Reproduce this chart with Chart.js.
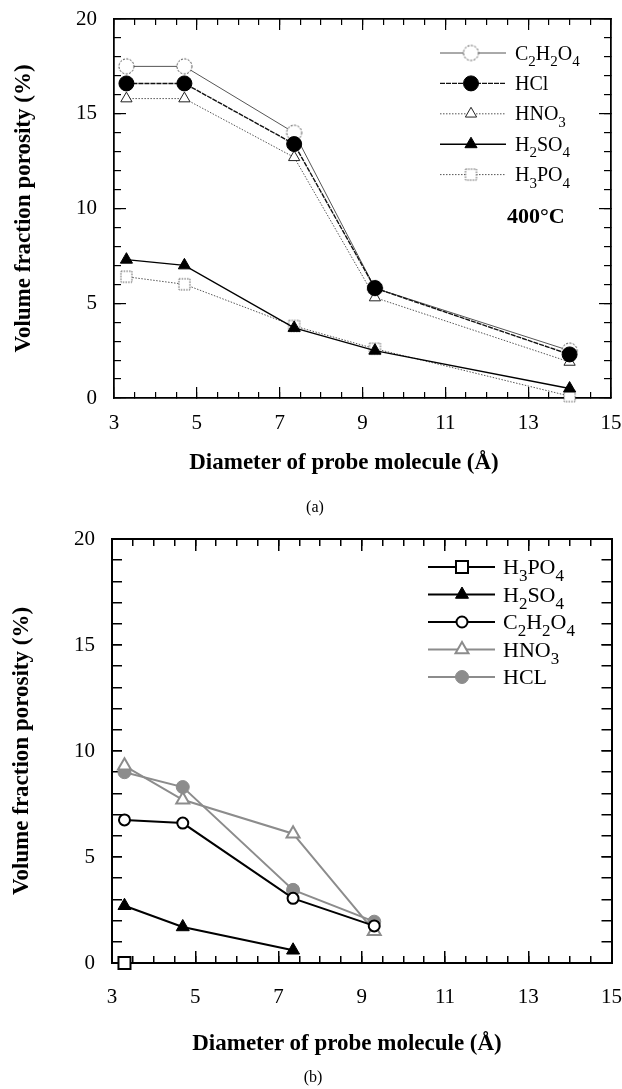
<!DOCTYPE html>
<html><head><meta charset="utf-8">
<script src="https://cdn.jsdelivr.net/npm/chart.js@4.4.1/dist/chart.umd.min.js"></script>
<style>
html,body{margin:0;padding:0;background:#fff;width:622px;height:1089px;overflow:hidden;}
#wrap{position:relative;width:622px;height:1089px;}
canvas{position:absolute;left:0;}
#c1{top:0}
#c2{top:520px}
.cap{position:absolute;width:622px;text-align:center;font:16px "Liberation Serif",serif;color:#000;line-height:18px;}
.xt{position:absolute;width:500px;text-align:center;font:bold 23px "Liberation Serif",serif;color:#000;line-height:28px;white-space:nowrap;}
</style></head><body>
<div id="wrap">
<canvas id="c1" width="622" height="540"></canvas>
<canvas id="c2" width="622" height="569"></canvas>
<div class="xt" id="xtA" style="top:448px;left:94px"></div>
<div class="xt" id="xtB" style="top:1029px;left:97px"></div>
<div class="cap" style="top:498px;left:4px">(a)</div>
<div class="cap" style="top:1068px;left:2px">(b)</div>
</div>
<script>
// ---------------- data ----------------
const diameters = [3.3, 4.7, 7.35, 9.3, 14.0];
const xTickLabels = [3, 5, 7, 9, 11, 13, 15];
const yTickLabels = [0, 5, 10, 15, 20];
const xTitle = 'Diameter of probe molecule (Å)';
const yTitle = 'Volume fraction porosity (%)';

// (a) 400°C
const namesA = ['C_2H_2O_4', 'HCl', 'HNO_3', 'H_2SO_4', 'H_3PO_4'];
const a_C2H2O4 = [17.5, 17.5, 14.0, 5.8, 2.5];
const a_HCl    = [16.6, 16.6, 13.4, 5.8, 2.3];
const a_HNO3   = [15.8, 15.8, 12.7, 5.3, 1.9];
const a_H2SO4  = [7.3, 7.0, 3.7, 2.5, 0.5];
const a_H3PO4  = [6.4, 6.0, 3.8, 2.6, 0.1];
const noteA = '400°C';

// (b)
const namesB = ['H_3PO_4', 'H_2SO_4', 'C_2H_2O_4', 'HNO_3', 'HCL'];
const b_H3PO4  = [0.0];
const b_H2SO4  = [2.7, 1.7, 0.6];
const b_C2H2O4 = [6.75, 6.6, 3.05, 1.75];
const b_HNO3   = [9.3, 7.7, 6.1, 1.5];
const b_HCL    = [9.0, 8.3, 3.45, 1.95];

document.getElementById('xtA').textContent = xTitle;
document.getElementById('xtB').textContent = xTitle;

// ---------------- helpers ----------------
const F = '"Liberation Serif","Times New Roman",serif';
const pts = arr => arr.map((v, i) => ({x: diameters[i], y: v}));
const plain = s => s.replace(/_/g, '');

function dashedCircle(r, dash, color, lw) {
  const s = Math.ceil(2 * r + 4);
  const c = document.createElement('canvas'); c.width = s; c.height = s;
  const g = c.getContext('2d');
  g.beginPath(); g.arc(s / 2, s / 2, r, 0, Math.PI * 2);
  g.fillStyle = '#fff'; g.fill();
  g.setLineDash(dash); g.lineWidth = lw; g.strokeStyle = color; g.stroke();
  return c;
}
function dashedSquare(h, dash, color, lw) {
  const s = Math.ceil(2 * h + 4);
  const c = document.createElement('canvas'); c.width = s; c.height = s;
  const g = c.getContext('2d');
  g.fillStyle = '#fff'; g.fillRect(s / 2 - h, s / 2 - h, 2 * h, 2 * h);
  g.setLineDash(dash); g.lineWidth = lw; g.strokeStyle = color;
  g.strokeRect(s / 2 - h, s / 2 - h, 2 * h, 2 * h);
  return c;
}

function drawSubText(ctx, markup, x, y, size, bold) {
  const parts = markup.split(/(_\d)/).filter(Boolean);
  let cx = x; const base = y + size * 0.33;
  ctx.fillStyle = '#000'; ctx.textBaseline = 'alphabetic'; ctx.textAlign = 'left';
  const w = bold ? 'bold ' : '';
  for (const p of parts) {
    if (p[0] === '_') {
      ctx.font = w + Math.round(size * 0.75) + 'px ' + F;
      ctx.fillText(p.slice(1), cx, base + size * 0.32);
      cx += ctx.measureText(p.slice(1)).width;
    } else {
      ctx.font = w + size + 'px ' + F;
      ctx.fillText(p, cx, base);
      cx += ctx.measureText(p).width;
    }
  }
}

const subLegend = {
  id: 'subLegend',
  afterDatasetsDraw(chart, args, opts) {
    if (!opts || !opts.items) return;
    const ctx = chart.ctx;
    opts.items.forEach((it, i) => {
      const ds = chart.data.datasets[it.ds];
      const y = opts.y0 + i * opts.dy;
      ctx.save();
      ctx.strokeStyle = ds.borderColor; ctx.lineWidth = ds.borderWidth;
      ctx.setLineDash(ds.borderDash || []);
      ctx.beginPath(); ctx.moveTo(opts.x1, y); ctx.lineTo(opts.x2, y); ctx.stroke();
      ctx.setLineDash([]);
      ctx.fillStyle = ds.pointBackgroundColor;
      ctx.strokeStyle = ds.pointBorderColor;
      ctx.lineWidth = ds.pointBorderWidth;
      Chart.helpers.drawPoint(ctx, {pointStyle: ds.pointStyle, radius: ds.pointRadius, rotation: 0, borderWidth: ds.pointBorderWidth}, opts.xm, y);
      ctx.restore();
      ctx.save();
      drawSubText(ctx, it.label, opts.xt, y, opts.size, false);
      ctx.restore();
    });
    if (opts.note) {
      ctx.save();
      ctx.fillStyle = '#000'; ctx.textAlign = 'left'; ctx.textBaseline = 'middle';
      ctx.font = 'bold ' + opts.note.size + 'px ' + F;
      ctx.fillText(opts.note.text, opts.note.x, opts.note.y);
      ctx.restore();
    }
  }
};

const noPad = s => { s.paddingLeft = 0; s.paddingRight = 0; s.paddingTop = 0; s.paddingBottom = 0; };

function buildScales(o) {
  const majX = s => { s.ticks = xTickLabels.map(v => ({value: v})); };
  const majY = s => { s.ticks = yTickLabels.map(v => ({value: v})); };
  const bx = {min: 3, max: 15, type: 'linear'};
  const by = {min: 0, max: 20, type: 'linear'};
  const border = {display: true, color: '#000', width: o.borderW};
  const g = len => ({drawOnChartArea: false, drawTicks: true, tickLength: -len, color: '#000', lineWidth: o.tickW});
  const h0 = s => { s.height = 0; noPad(s); };
  const w0 = s => { s.width = 0; noPad(s); };
  return {
    x: Object.assign({}, bx, {
      position: 'bottom', weight: 1, afterBuildTicks: majX,
      afterFit: s => { s.height = o.axisH; noPad(s); },
      border, grid: g(o.xMaj),
      ticks: {color: '#000', font: {family: F, size: o.tickSize}, padding: o.xLabPad + o.xMaj, maxRotation: 0, autoSkip: false},
      title: {display: false}
    }),
    xMinor: Object.assign({}, bx, {
      position: 'bottom', weight: 0, afterFit: h0,
      border, grid: g(o.xMin), ticks: {display: false, stepSize: 0.5}
    }),
    xTop: Object.assign({}, bx, {
      position: 'top', weight: 0, afterFit: h0,
      border, grid: g(o.xMin), ticks: {display: false, stepSize: 0.5}
    }),
    xTopMaj: Object.assign({}, bx, {
      position: 'top', weight: 0, afterFit: h0, afterBuildTicks: majX,
      border, grid: g(o.xMaj), ticks: {display: false}
    }),
    y: Object.assign({}, by, {
      position: 'left', weight: 1, afterBuildTicks: majY,
      afterFit: s => { s.width = o.axisW; noPad(s); },
      border, grid: g(o.yMaj),
      ticks: {color: '#000', font: {family: F, size: o.tickSize}, padding: o.yLabPad + o.yMaj, autoSkip: false},
      title: {display: true, text: yTitle, color: '#000', font: {family: F, size: o.titleSize, weight: 'bold'}, padding: {top: o.yTitlePadT, bottom: 0}}
    }),
    yMinor: Object.assign({}, by, {
      position: 'left', weight: 0, afterFit: w0,
      border, grid: g(o.yMin), ticks: {display: false, stepSize: 1}
    }),
    yRight: Object.assign({}, by, {
      position: 'right', weight: 0, afterFit: w0,
      border, grid: g(o.yMin), ticks: {display: false, stepSize: 1}
    }),
    yRightMaj: Object.assign({}, by, {
      position: 'right', weight: 0, afterFit: w0, afterBuildTicks: majY,
      border, grid: g(o.yMaj), ticks: {display: false}
    })
  };
}

function ds(label, data, o) {
  return Object.assign({
    label: plain(label), data: pts(data), showLine: true, tension: 0, clip: false,
    borderDash: [], pointBorderWidth: 1, pointHoverRadius: 0
  }, o);
}

// ---------------- chart (a) ----------------
const circA = dashedCircle(7.5, [2, 1.5], '#444', 1);
const sqA = dashedSquare(5.5, [1.5, 1.2], '#555', 1);

new Chart(document.getElementById('c1'), {
  type: 'line',
  data: {datasets: [
    ds(namesA[0], a_C2H2O4, {order: 1, borderColor: '#555', borderWidth: 1, pointStyle: circA, pointRadius: 7.5, pointBackgroundColor: '#fff', pointBorderColor: '#444'}),
    ds(namesA[1], a_HCl, {order: 0, borderColor: '#111', borderWidth: 1.4, borderDash: [5, 1], pointStyle: 'circle', pointRadius: 7.5, pointBackgroundColor: '#000', pointBorderColor: '#000'}),
    ds(namesA[2], a_HNO3, {order: 2, borderColor: '#555', borderWidth: 1, borderDash: [1.5, 1.5], pointStyle: 'triangle', pointRadius: 6.5, pointBackgroundColor: '#fff', pointBorderColor: '#222'}),
    ds(namesA[3], a_H2SO4, {order: 3, borderColor: '#000', borderWidth: 1.4, pointStyle: 'triangle', pointRadius: 7, pointBackgroundColor: '#000', pointBorderColor: '#000'}),
    ds(namesA[4], a_H3PO4, {order: 4, borderColor: '#555', borderWidth: 1, borderDash: [1.5, 1.5], pointStyle: sqA, pointRadius: 6, pointBackgroundColor: '#fff', pointBorderColor: '#555'})
  ]},
  options: {
    responsive: false, animation: false, devicePixelRatio: 1,
    layout: {padding: {top: 19, right: 11, left: 0, bottom: 0}},
    scales: buildScales({axisH: 142, axisW: 114, borderW: 1.5, tickW: 1.2, xMaj: 11, xMin: 6, yMaj: 12, yMin: 7,
      tickSize: 21, titleSize: 23, xLabPad: 12.4, yLabPad: 17, yTitlePadT: 10}),
    plugins: {
      legend: {display: false}, tooltip: {enabled: false},
      subLegend: {x1: 440, x2: 506, xm: 471, xt: 515, y0: 53, dy: 30.4, size: 20,
        items: namesA.map((n, i) => ({ds: i, label: n})),
        note: {text: noteA, x: 507, y: 217, size: 22}}
    }
  },
  plugins: [subLegend]
});

// ---------------- chart (b) ----------------
const GR = '#8c8c8c';
new Chart(document.getElementById('c2'), {
  type: 'line',
  data: {datasets: [
    ds(namesB[0], b_H3PO4, {borderColor: '#000', borderWidth: 2, pointStyle: 'rect', pointRadius: 8.5, pointBorderWidth: 2, pointBackgroundColor: '#fff', pointBorderColor: '#000'}),
    ds(namesB[1], b_H2SO4, {borderColor: '#000', borderWidth: 2, pointStyle: 'triangle', pointRadius: 7.5, pointBackgroundColor: '#000', pointBorderColor: '#000'}),
    ds(namesB[2], b_C2H2O4, {borderColor: '#000', borderWidth: 2, pointStyle: 'circle', pointRadius: 5.5, pointBorderWidth: 2, pointBackgroundColor: '#fff', pointBorderColor: '#000'}),
    ds(namesB[3], b_HNO3, {borderColor: GR, borderWidth: 2, pointStyle: 'triangle', pointRadius: 7.5, pointBorderWidth: 2, pointBackgroundColor: '#fff', pointBorderColor: GR}),
    ds(namesB[4], b_HCL, {borderColor: GR, borderWidth: 2, pointStyle: 'circle', pointRadius: 6.5, pointBackgroundColor: GR, pointBorderColor: GR})
  ]},
  options: {
    responsive: false, animation: false, devicePixelRatio: 1,
    layout: {padding: {top: 19, right: 10, left: 0, bottom: 0}},
    scales: buildScales({axisH: 126, axisW: 112, borderW: 2, tickW: 1.5, xMaj: 12, xMin: 7, yMaj: 10, yMin: 10,
      tickSize: 21, titleSize: 23, xLabPad: 21.4, yLabPad: 17, yTitlePadT: 8}),
    plugins: {
      legend: {display: false}, tooltip: {enabled: false},
      subLegend: {x1: 428, x2: 495, xm: 462, xt: 503, y0: 47, dy: 27.5, size: 22,
        items: namesB.map((n, i) => ({ds: i, label: n}))}
    }
  },
  plugins: [subLegend]
});
</script>
</body></html>
